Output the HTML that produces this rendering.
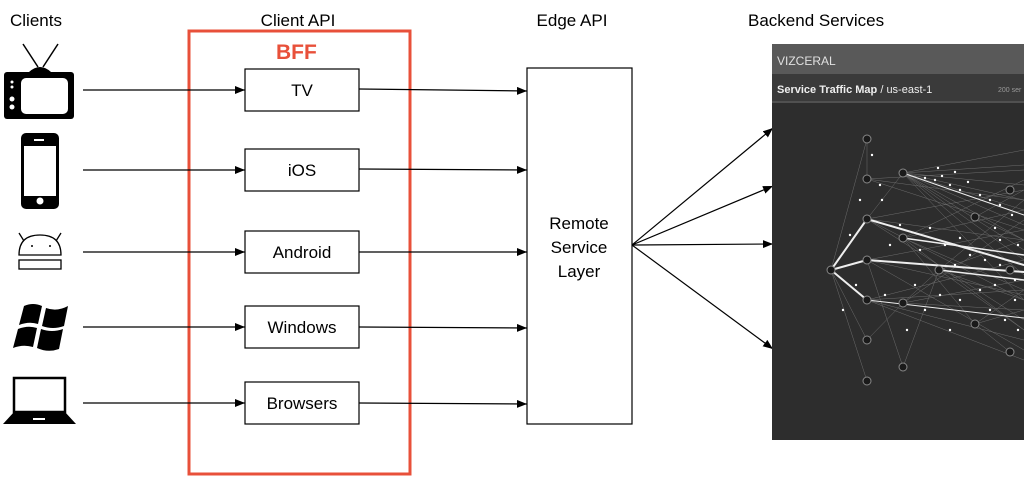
<!DOCTYPE html>
<html><head><meta charset="utf-8"><style>
html,body{margin:0;padding:0;background:#fff;}
svg{display:block;font-family:"Liberation Sans",sans-serif;}
</style></head><body>
<svg width="1024" height="484" viewBox="0 0 1024 484" xmlns="http://www.w3.org/2000/svg">
<defs>
<marker id="a" markerWidth="10" markerHeight="8" refX="10" refY="4" orient="auto" markerUnits="userSpaceOnUse">
<path d="M0,0 L10,4 L0,8 z" fill="#000"/></marker>
</defs>
<text x="10" y="26" font-size="17" fill="#000">Clients</text>
<text x="298" y="26" font-size="17" fill="#000" text-anchor="middle">Client API</text>
<text x="572" y="26" font-size="17" fill="#000" text-anchor="middle">Edge API</text>
<text x="748" y="26" font-size="17" fill="#000">Backend Services</text>
<rect x="189" y="31" width="221" height="443" fill="none" stroke="#e8503a" stroke-width="3"/>
<text x="276" y="59" font-size="21" font-weight="bold" fill="#e8503a">BFF</text>
<g stroke="#000" stroke-width="1.2" fill="#fff">
<rect x="245" y="69" width="114" height="42"/>
<rect x="245" y="149" width="114" height="42"/>
<rect x="245" y="231" width="114" height="42"/>
<rect x="245" y="306" width="114" height="42"/>
<rect x="245" y="382" width="114" height="42"/>
<rect x="527" y="68" width="105" height="356"/>
</g>
<g font-size="17" text-anchor="middle" fill="#000">
<text x="302" y="96">TV</text>
<text x="302" y="176">iOS</text>
<text x="302" y="258">Android</text>
<text x="302" y="333">Windows</text>
<text x="302" y="409">Browsers</text>
<text x="579" y="229">Remote</text>
<text x="579" y="253">Service</text>
<text x="579" y="277">Layer</text>
</g>
<g stroke="#000" stroke-width="1.2" marker-end="url(#a)">
<line x1="83" y1="90" x2="245" y2="90"/>
<line x1="83" y1="170" x2="245" y2="170"/>
<line x1="83" y1="252" x2="245" y2="252"/>
<line x1="83" y1="327" x2="245" y2="327"/>
<line x1="83" y1="403" x2="245" y2="403"/>
<line x1="359" y1="89" x2="527" y2="91"/>
<line x1="359" y1="169" x2="527" y2="170"/>
<line x1="359" y1="252" x2="527" y2="252"/>
<line x1="359" y1="327" x2="527" y2="328"/>
<line x1="359" y1="403" x2="527" y2="404"/>
<line x1="632" y1="245" x2="773" y2="128"/>
<line x1="632" y1="245" x2="773" y2="186"/>
<line x1="632" y1="245" x2="773" y2="244"/>
<line x1="632" y1="245" x2="773" y2="349"/>
</g>
<g>
<line x1="23" y1="44" x2="38" y2="67" stroke="#000" stroke-width="1.5"/>
<line x1="58" y1="44" x2="43" y2="67" stroke="#000" stroke-width="1.5"/>
<path d="M29,72 Q40,62 51,72 z" fill="#000"/>
<rect x="4" y="72" width="70" height="47" rx="3" fill="#000"/>
<rect x="21" y="78" width="47" height="36" rx="5" fill="#fff"/>
<circle cx="12" cy="82" r="1.5" fill="#fff"/><circle cx="12" cy="87" r="1.5" fill="#fff"/>
<circle cx="12" cy="99" r="2.5" fill="#fff"/><circle cx="12" cy="107" r="2.5" fill="#fff"/>
</g>
<g>
<rect x="21" y="133" width="38" height="76" rx="5" fill="#000"/>
<rect x="24" y="146" width="32" height="50" fill="#fff"/>
<rect x="34" y="139" width="10" height="2" fill="#fff"/>
<circle cx="40" cy="201" r="3.5" fill="#fff"/>
</g>
<g stroke="#000" stroke-width="1.3" fill="none">
<line x1="19" y1="233" x2="24" y2="241"/><line x1="61" y1="233" x2="56" y2="241"/>
<path d="M19,255 Q19,235 40,235 Q61,235 61,255 z"/>
<rect x="19" y="260" width="42" height="9"/>
</g>
<circle cx="32" cy="246" r="1" fill="#000"/><circle cx="50" cy="246" r="1" fill="#000"/>
<g fill="#000">
<path d="M24,306 Q33,302 42,306 L38,324 Q29,321 19,325 z"/>
<path d="M46,308 Q57,312 68,306 L64,326 Q53,330 42,326 z"/>
<path d="M18,329 Q28,325 37,328 L33,347 Q23,344 13,348 z"/>
<path d="M41,329 Q52,333 63,329 L59,349 Q48,353 37,348 z"/>
</g>
<g>
<rect x="14" y="378" width="51" height="34" fill="none" stroke="#000" stroke-width="2.5"/>
<path d="M14,412 L65,412 L76,424 L3,424 z" fill="#000"/>
<rect x="33" y="418" width="12" height="2" fill="#fff"/>
</g>
<rect x="772" y="44" width="252" height="396" fill="#2d2d2d"/>
<rect x="772" y="44" width="252" height="30" fill="#595959"/>
<rect x="772" y="74" width="252" height="29" fill="#3a3a3a"/>
<line x1="772" y1="102" x2="1024" y2="102" stroke="#666" stroke-width="1"/>
<text x="777" y="65" font-size="12" fill="#e0e0e0">VIZCERAL</text>
<text x="777" y="93" font-size="11" fill="#eee" font-weight="bold">Service Traffic Map <tspan font-weight="normal">/ us-east-1</tspan></text>
<text x="998" y="92" font-size="7" fill="#999">200 ser</text>
<g stroke="#888" stroke-width="0.5" opacity="0.7">
<line x1="831" y1="270" x2="867" y2="139"/><line x1="831" y1="270" x2="867" y2="381"/>
<line x1="831" y1="270" x2="867" y2="340"/><line x1="867" y1="179" x2="1024" y2="230"/>
<line x1="903" y1="173" x2="1024" y2="150"/><line x1="903" y1="173" x2="1024" y2="200"/>
<line x1="903" y1="173" x2="1024" y2="260"/><line x1="903" y1="173" x2="1024" y2="300"/>
<line x1="903" y1="173" x2="1024" y2="240"/><line x1="903" y1="238" x2="1024" y2="330"/>
<line x1="903" y1="238" x2="1024" y2="180"/><line x1="867" y1="300" x2="1024" y2="340"/>
<line x1="867" y1="300" x2="1024" y2="260"/><line x1="903" y1="303" x2="1024" y2="220"/>
<line x1="867" y1="219" x2="1024" y2="300"/><line x1="939" y1="270" x2="1024" y2="200"/>
<line x1="939" y1="270" x2="1024" y2="330"/><line x1="903" y1="367" x2="939" y2="270"/>
<line x1="867" y1="260" x2="903" y2="367"/><line x1="867" y1="219" x2="903" y2="173"/>
<line x1="975" y1="324" x2="1024" y2="290"/><line x1="1010" y1="352" x2="975" y2="324"/>
<line x1="867" y1="139" x2="867" y2="179"/><line x1="903" y1="303" x2="939" y2="270"/>
<line x1="903" y1="173" x2="1024" y2="165"/><line x1="903" y1="173" x2="1024" y2="185"/>
<line x1="903" y1="173" x2="1024" y2="210"/><line x1="903" y1="173" x2="1024" y2="225"/>
<line x1="903" y1="173" x2="1024" y2="250"/><line x1="903" y1="173" x2="1024" y2="275"/>
<line x1="867" y1="219" x2="1024" y2="190"/><line x1="867" y1="219" x2="1024" y2="240"/>
<line x1="867" y1="219" x2="1024" y2="320"/><line x1="867" y1="260" x2="1024" y2="230"/>
<line x1="867" y1="260" x2="1024" y2="295"/><line x1="867" y1="260" x2="1024" y2="350"/>
<line x1="867" y1="300" x2="1024" y2="290"/><line x1="867" y1="300" x2="1024" y2="360"/>
<line x1="903" y1="303" x2="1024" y2="280"/><line x1="903" y1="303" x2="1024" y2="310"/>
<line x1="903" y1="238" x2="1024" y2="210"/><line x1="903" y1="238" x2="1024" y2="290"/>
<line x1="939" y1="270" x2="1024" y2="240"/><line x1="939" y1="270" x2="1024" y2="300"/>
<line x1="975" y1="217" x2="1024" y2="240"/><line x1="975" y1="217" x2="1024" y2="190"/>
<line x1="975" y1="324" x2="1024" y2="310"/><line x1="867" y1="179" x2="1024" y2="170"/>
<line x1="867" y1="179" x2="1024" y2="200"/><line x1="867" y1="340" x2="903" y2="303"/>
<line x1="903" y1="238" x2="975" y2="324"/>
</g>
<g stroke="#eee" stroke-linecap="round">
<line x1="831" y1="270" x2="867" y2="219" stroke-width="2"/>
<line x1="831" y1="270" x2="867" y2="260" stroke-width="2"/>
<line x1="831" y1="270" x2="867" y2="300" stroke-width="2"/>
<line x1="867" y1="219" x2="1024" y2="265" stroke-width="2"/>
<line x1="867" y1="260" x2="1024" y2="272" stroke-width="2"/>
<line x1="903" y1="238" x2="1024" y2="255" stroke-width="1.5"/>
<line x1="939" y1="270" x2="1024" y2="280" stroke-width="1.5"/>
<line x1="867" y1="300" x2="1024" y2="318" stroke-width="1"/>
<line x1="903" y1="173" x2="1024" y2="215" stroke-width="1"/>
</g>
<g fill="#1a1a1a" stroke="#888" stroke-width="1">
<circle cx="867" cy="139" r="4"/><circle cx="867" cy="179" r="4"/><circle cx="903" cy="173" r="4"/>
<circle cx="867" cy="219" r="4"/><circle cx="903" cy="238" r="4"/><circle cx="867" cy="260" r="4"/>
<circle cx="831" cy="270" r="4"/><circle cx="939" cy="270" r="4"/><circle cx="867" cy="300" r="4"/>
<circle cx="903" cy="303" r="4"/><circle cx="867" cy="340" r="4"/><circle cx="903" cy="367" r="4"/>
<circle cx="867" cy="381" r="4"/><circle cx="975" cy="217" r="4"/><circle cx="1010" cy="190" r="4"/>
<circle cx="1010" cy="270" r="4"/><circle cx="975" cy="324" r="4"/><circle cx="1010" cy="352" r="4"/>
</g>
<g fill="#fff">
<circle cx="935" cy="180" r="1.2"/><circle cx="942" cy="176" r="1.2"/><circle cx="950" cy="185" r="1.2"/>
<circle cx="960" cy="190" r="1.2"/><circle cx="990" cy="200" r="1.2"/><circle cx="1000" cy="240" r="1.2"/>
<circle cx="985" cy="260" r="1.2"/><circle cx="995" cy="285" r="1.2"/><circle cx="960" cy="300" r="1.2"/>
<circle cx="920" cy="250" r="1.2"/><circle cx="945" cy="245" r="1.2"/><circle cx="880" cy="185" r="1.2"/>
<circle cx="860" cy="200" r="1.2"/><circle cx="850" cy="235" r="1.2"/><circle cx="843" cy="310" r="1.2"/>
<circle cx="915" cy="285" r="1.2"/><circle cx="970" cy="255" r="1.2"/><circle cx="1015" cy="300" r="1.2"/>
<circle cx="1005" cy="320" r="1.2"/><circle cx="950" cy="330" r="1.2"/>
<circle cx="925" cy="178" r="1.2"/><circle cx="938" cy="168" r="1.2"/><circle cx="955" cy="172" r="1.2"/>
<circle cx="968" cy="182" r="1.2"/><circle cx="980" cy="195" r="1.2"/><circle cx="1000" cy="205" r="1.2"/>
<circle cx="1012" cy="215" r="1.2"/><circle cx="995" cy="228" r="1.2"/><circle cx="1018" cy="245" r="1.2"/>
<circle cx="960" cy="238" r="1.2"/><circle cx="930" cy="228" r="1.2"/><circle cx="900" cy="225" r="1.2"/>
<circle cx="890" cy="245" r="1.2"/><circle cx="955" cy="265" r="1.2"/><circle cx="1000" cy="265" r="1.2"/>
<circle cx="1015" cy="280" r="1.2"/><circle cx="980" cy="290" r="1.2"/><circle cx="940" cy="295" r="1.2"/>
<circle cx="925" cy="310" r="1.2"/><circle cx="990" cy="310" r="1.2"/><circle cx="1018" cy="330" r="1.2"/>
<circle cx="885" cy="295" r="1.2"/><circle cx="882" cy="200" r="1.2"/><circle cx="872" cy="155" r="1.2"/>
<circle cx="856" cy="285" r="1.2"/><circle cx="907" cy="330" r="1.2"/>
</g>
</svg>
</body></html>
